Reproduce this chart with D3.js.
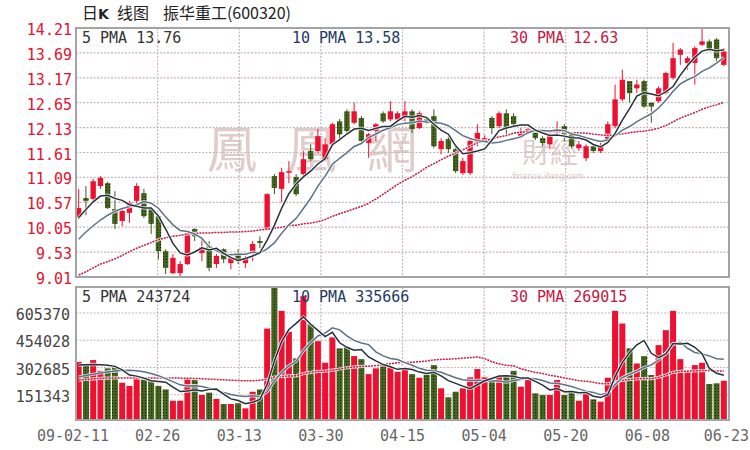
<!DOCTYPE html>
<html><head><meta charset="utf-8">
<script src="https://cdn.jsdelivr.net/npm/d3@7"></script>
<style>html,body{margin:0;padding:0;background:#fff;}svg{display:block;}</style>
</head><body>
<svg id="c" width="750" height="450"></svg>
<script>
// ---- data ----
const openP  = [10.26,10.66,10.64,10.91,10.97,10.43,10.18,10.35,10.60,10.76,
                10.43,10.28,9.55,9.09,9.09,9.28,10.01,9.51,9.66,9.28,
                9.59,9.30,9.51,9.30,9.49,9.76,9.99,11.12,10.85,11.20,
                11.10,11.16,11.64,11.64,11.47,11.78,12.26,12.47,12.23,12.33,
                11.81,12.06,12.43,12.30,12.30,12.33,12.47,12.12,12.30,12.37,
                11.68,11.89,11.68,11.18,11.18,11.81,11.87,12.33,12.16,12.43,
                12.37,11.95,12.02,12.06,11.91,11.78,12.02,12.16,11.99,11.70,
                11.49,11.74,11.64,11.89,12.16,12.72,13.10,12.95,13.10,12.65,
                12.68,12.85,13.17,13.65,13.48,13.48,13.86,13.93,13.97,13.44];
const closeP = [10.45,10.60,11.01,11.08,10.45,10.12,10.39,10.56,10.91,10.28,
                10.12,9.55,9.20,9.41,9.28,9.91,9.86,9.63,9.20,9.45,
                9.38,9.41,9.34,9.41,9.70,9.72,10.74,10.87,11.20,11.22,
                10.74,11.47,11.47,11.95,11.78,12.20,11.99,12.06,12.47,11.85,
                11.99,12.20,12.26,12.47,12.43,12.47,12.10,12.43,12.26,11.74,
                11.85,11.68,11.22,11.43,11.85,12.02,11.91,12.12,12.43,12.12,
                12.20,12.06,12.10,11.91,11.81,11.95,12.10,11.99,11.74,11.78,
                11.74,11.64,11.74,12.20,12.72,13.13,12.85,13.03,12.57,12.57,
                12.95,13.27,13.58,13.76,13.58,13.79,13.93,13.76,13.58,13.72];
const highP  = [10.85,10.91,11.06,11.12,11.00,10.80,10.45,10.60,10.97,10.85,
                10.45,10.28,9.59,9.49,9.34,9.95,10.03,9.82,9.76,9.49,
                9.61,9.45,9.59,9.45,9.76,9.86,10.76,11.16,11.29,11.43,
                11.16,11.64,11.78,12.10,11.91,12.23,12.31,12.51,12.65,12.37,
                12.02,12.23,12.47,12.68,12.47,12.68,12.51,12.47,12.35,12.51,
                11.91,11.95,11.72,11.50,11.91,12.20,11.97,12.37,12.47,12.51,
                12.43,12.12,12.12,12.10,11.95,12.06,12.26,12.20,12.02,11.85,
                11.78,11.78,11.81,12.26,13.03,13.34,13.10,13.13,13.13,12.65,
                12.99,13.30,13.90,13.79,13.62,13.83,14.21,13.97,14.00,13.79];
const lowP   = [10.22,10.30,10.55,10.85,10.43,10.01,10.07,10.14,10.53,10.24,
                9.91,9.38,9.07,9.07,9.03,9.26,9.76,9.34,9.13,9.20,
                9.30,9.17,9.28,9.20,9.34,9.61,9.97,10.74,10.57,10.97,
                10.70,11.12,11.43,11.60,11.43,11.74,11.91,12.02,12.20,11.81,
                11.50,11.85,12.23,12.26,12.20,12.26,12.02,12.10,12.20,11.70,
                11.57,11.60,11.18,11.14,11.14,11.74,11.81,11.99,12.12,11.95,
                12.12,11.91,11.99,11.87,11.74,11.68,11.95,11.85,11.70,11.64,
                11.43,11.60,11.60,11.87,12.12,12.68,12.65,12.85,12.54,12.23,
                12.65,12.82,13.13,13.44,13.34,13.03,13.83,13.72,13.51,13.41];
const volume = [334000,316000,344000,284000,298000,303000,218000,200000,255000,242000,
                229000,200000,181000,118000,118000,242000,233000,150000,163000,128000,
                100000,100000,104000,76000,168000,181000,519000,750000,617000,501000,
                353000,699000,543000,449000,329000,470000,409000,417000,366000,349000,
                266000,298000,316000,303000,279000,292000,266000,246000,264000,316000,
                187000,137000,168000,187000,248000,294000,248000,233000,255000,251000,
                284000,196000,237000,159000,150000,150000,233000,150000,162000,118000,
                159000,126000,113000,246000,617000,547000,409000,325000,366000,261000,
                427000,510000,617000,349000,284000,316000,329000,211000,215000,229000];
const ma5Head   = [10.25,10.42,10.58,10.70];
const ma10Head  = [9.80,9.95,10.08,10.20,10.30,10.38,10.44,10.48,10.52];
const ma30Head  = [9.05,9.12,9.20,9.28,9.33,9.39,9.46,9.54,9.61,9.67,9.73,9.79,9.83,9.86,9.88,
                   9.91,9.92,9.93,9.93,9.94,9.94,9.95,9.95,9.96,9.97,9.99,10.01,10.03,10.05];
const vma5Head  = [316000,318000,320000,318000];
const vma10Head = [250000,258000,265000,272000,278000,283000,286000,287000,285000];
const vma30Head = [233000,236000,240000,242000,244000,245000,245000,245000,245000,244000,
                   244000,244000,244000,244000,244000,243000,242000,240000,238000,236000,
                   234000,232000,230000,229000,229000,232000,236000,250000,252000];
const priceTicks = [14.21,13.69,13.17,12.65,12.13,11.61,11.09,10.57,10.05,9.53,9.01];
const volTicks   = [605370,454028,302685,151343];
const dateLabels = ["09-02-11","02-26","03-13","03-30","04-15","05-04","05-20","06-08","06-23"];
const priceLegend = ["5 PMA 13.76","10 PMA 13.58","30 PMA 12.63"];
const volLegend   = ["5 PMA 243724","10 PMA 335666","30 PMA 269015"];
const titleParts  = ["日","K","线图","振华重工(600320)"];

// ---- layout ----
const svg = d3.select("#c");
const L = 76, R = 729, pT = 28, pB = 277, vT = 287, vB = 420;
const n = closeP.length;
const idx = d3.range(n);
const x = d3.scaleBand().domain(idx).range([76, 726.5]).paddingInner(0.26);
const cx = i => x(i) + x.bandwidth()/2;
const yP = d3.scaleLinear().domain([9.01,14.21]).range([pB, pT]);
const yV = d3.scaleLinear().domain([0,605370]).range([422, 313]);
const xg = d3.scaleLinear().domain([0, dateLabels.length-1]).range([L, R]);

function movAvg(arr, k, head){
  return arr.map((v,i)=> i < k-1 ? head[i] : d3.mean(arr.slice(i-k+1,i+1)));
}
const ma5 = movAvg(closeP,5,ma5Head), ma10 = movAvg(closeP,10,ma10Head), ma30 = movAvg(closeP,30,ma30Head);
const vma5 = movAvg(volume,5,vma5Head), vma10 = movAvg(volume,10,vma10Head), vma30 = movAvg(volume,30,vma30Head);

const RED = "#ee1030", GREEN = "#44641c";
const defs = svg.append("defs");
const pat = defs.append("pattern").attr("id","gp").attr("width",3).attr("height",3).attr("patternUnits","userSpaceOnUse");
pat.append("rect").attr("width",3).attr("height",3).attr("fill",GREEN);
pat.append("rect").attr("x",1).attr("y",1).attr("width",1).attr("height",1).attr("fill","#16260a");
defs.append("clipPath").attr("id","cp").append("rect").attr("x",L).attr("y",pT).attr("width",R-L).attr("height",pB-pT);
defs.append("clipPath").attr("id","cv").append("rect").attr("x",L).attr("y",vT).attr("width",R-L).attr("height",vB-vT);

const MONO = "'DejaVu Sans Mono', monospace";

// ---- title ----
const title = svg.append("text").attr("x",82).attr("y",19).attr("font-family","'Noto Sans CJK SC', sans-serif")
  .attr("font-size",16).attr("fill","#222");
title.append("tspan").text(titleParts[0]);
title.append("tspan").attr("font-weight","bold").attr("font-family","'DejaVu Sans', sans-serif").attr("font-size",14).text(titleParts[1]);
title.append("tspan").attr("dx",8).text(titleParts[2]);
title.append("tspan").attr("dx",14).text(titleParts[3]);

// ---- watermark ----
const wm = svg.append("g").attr("fill","#e0cccc").attr("font-family","'Noto Sans CJK TC', sans-serif");
[["鳳",232],["凰",312],["網",392]].forEach(([t,px])=>{
  wm.append("text").attr("x",px).attr("y",168).attr("text-anchor","middle").attr("font-size",50).text(t);
});
wm.append("text").attr("x",550).attr("y",163).attr("text-anchor","middle").attr("font-size",28).text("財經");
wm.append("text").attr("x",548).attr("y",179).attr("text-anchor","middle").attr("font-size",8).attr("font-family","'DejaVu Sans', sans-serif").text("finance.ifeng.com");

// ---- grids ----
const grid = svg.append("g").attr("stroke","#c6b6b6").attr("stroke-width",1.2).attr("stroke-dasharray","2,1.5");
priceTicks.slice(1,-1).forEach(t=> grid.append("line").attr("x1",L).attr("x2",R).attr("y1",yP(t)).attr("y2",yP(t)));
volTicks.forEach(t=> grid.append("line").attr("x1",L).attr("x2",R).attr("y1",yV(t)).attr("y2",yV(t)));
d3.range(1,dateLabels.length-1).forEach(k=>{
  grid.append("line").attr("x1",xg(k)).attr("x2",xg(k)).attr("y1",pT).attr("y2",pB);
  grid.append("line").attr("x1",xg(k)).attr("x2",xg(k)).attr("y1",vT).attr("y2",vB);
});

// ---- candles ----
const cg = svg.append("g").attr("clip-path","url(#cp)");
idx.forEach(i=>{
  const up = closeP[i] >= openP[i];
  cg.append("line").attr("x1",cx(i)).attr("x2",cx(i)).attr("y1",yP(highP[i])).attr("y2",yP(lowP[i]))
    .attr("stroke", up ? RED : "#3a5a18").attr("stroke-width",1);
  const top = yP(Math.max(openP[i],closeP[i])), bot = yP(Math.min(openP[i],closeP[i]));
  cg.append("rect").attr("x",x(i)).attr("width",x.bandwidth()).attr("y",top).attr("height",Math.max(1.5,bot-top))
    .attr("fill", up ? RED : "url(#gp)");
});

function drawLine(g, data, ys, color, dash){
  const ln = d3.line().x((d,i)=>cx(i)).y(d=>ys(d));
  g.append("path").attr("d",ln(data)).attr("fill","none").attr("stroke","#ffffff").attr("stroke-opacity",0.8).attr("stroke-width",3.2);
  g.append("path").attr("d",ln(data)).attr("fill","none").attr("stroke",color).attr("stroke-width",1.5)
    .attr("stroke-dasharray",dash||null);
}
drawLine(cg, ma30, yP, "#c4173f", "2,1");
drawLine(cg, ma10, yP, "#5b7286");
drawLine(cg, ma5,  yP, "#24313d");

// ---- volume ----
const vg = svg.append("g").attr("clip-path","url(#cv)");
idx.forEach(i=>{
  const up = closeP[i] >= openP[i];
  vg.append("rect").attr("x",cx(i)-3).attr("width",6).attr("y",yV(volume[i])).attr("height",yV(0)-yV(volume[i]))
    .attr("fill", up ? RED : "url(#gp)");
});
drawLine(vg, vma30, yV, "#c4173f", "2,1");
drawLine(vg, vma10, yV, "#5b7286");
drawLine(vg, vma5,  yV, "#24313d");

// ---- panel borders ----
svg.append("rect").attr("x",L).attr("y",pT).attr("width",R-L).attr("height",pB-pT).attr("fill","none").attr("stroke","#a4a4a4").attr("stroke-width",2);
svg.append("rect").attr("x",L).attr("y",vT).attr("width",R-L).attr("height",vB-vT).attr("fill","none").attr("stroke","#a4a4a4").attr("stroke-width",2);

// ---- axes labels ----
const ax = svg.append("g").attr("font-family",MONO).attr("font-size",15);
priceTicks.forEach(t=> ax.append("text").attr("x",72).attr("y",yP(t)+7).attr("text-anchor","end").attr("fill","#e8102e").text(t.toFixed(2)));
volTicks.forEach(t=> ax.append("text").attr("x",70).attr("y",yV(t)+7).attr("text-anchor","end").attr("fill","#444").text(t));
const last = dateLabels.length-1;
dateLabels.forEach((t,k)=> ax.append("text")
  .attr("x", k===0 ? xg(k)-3 : (k===last ? 749 : xg(k)))
  .attr("y",441).attr("text-anchor", k===last ? "end" : "middle").attr("fill","#666").text(t));

// ---- legends ----
const legColors = ["#333","#1f3b63","#c4173f"];
const legX = [82, 292, 510];
priceLegend.forEach((t,k)=> ax.append("text").attr("x",legX[k]).attr("y",43).attr("fill",legColors[k]).text(t));
volLegend.forEach((t,k)=> ax.append("text").attr("x",legX[k]).attr("y",302).attr("fill",legColors[k]).text(t));
</script>
</body></html>
